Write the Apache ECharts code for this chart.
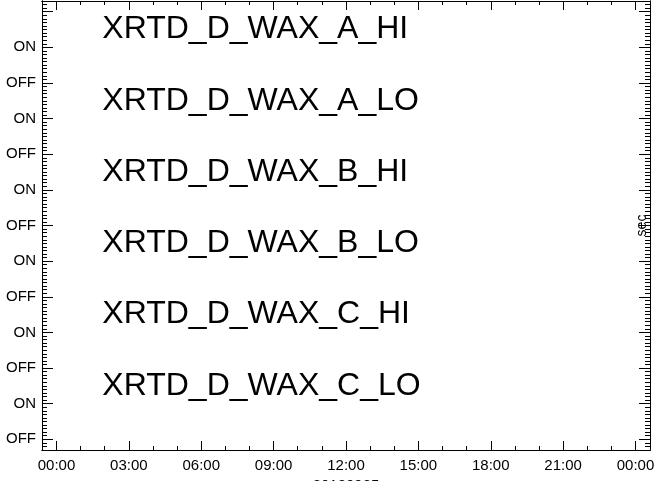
<!DOCTYPE html>
<html>
<head>
<meta charset="utf-8">
<script src="https://cdn.jsdelivr.net/npm/echarts@6/dist/echarts.min.js"></script>
<style>
  html, body { margin: 0; padding: 0; background: #fff; }
  #main { width: 657px; height: 481px; }
</style>
</head>
<body>
<div id="main"></div>
<script>
// channel names, top to bottom
var channels = ['XRTD_D_WAX_A_HI', 'XRTD_D_WAX_A_LO', 'XRTD_D_WAX_B_HI',
                'XRTD_D_WAX_B_LO', 'XRTD_D_WAX_C_HI', 'XRTD_D_WAX_C_LO'];
// where each name sits (y in state units, x in hours)
var nameY = [11.5, 9.5, 7.5, 5.5, 3.5, 1.5];
var nameX = [1.9, 1.9, 1.9, 1.9, 1.9, 1.9];
// tick labels
var stateLabels = ['OFF', 'ON'];
var timeLabels = ['00:00', '03:00', '06:00', '09:00', '12:00', '15:00', '18:00', '21:00', '00:00'];
var dateLabel = '20180925';
var yUnit = 'sec';

var chart = echarts.init(document.getElementById('main'));

var black = '#000';
var font = 'Liberation Sans';

// slots for the small ticks (0.2 h along x, 0.1 state along y)
var xSlots = [];
for (var k = 0; k <= 126; k++) xSlots.push((-0.6 + k * 0.2).toFixed(1));
var ySlots = [];
for (var k = 0; k <= 126; k++) ySlots.push((-0.3 + k * 0.1).toFixed(1));

function isInt(v) {
    return Math.abs(v - Math.round(v)) < 1e-6;
}

function xAx(pos, withLabels) {
    return {
        type: 'value',
        position: pos,
        min: -0.6,
        max: 24.6,
        splitNumber: 8,
        axisLine: { show: true, onZero: false, lineStyle: { color: black, width: 1 } },
        axisTick: { show: true, inside: true, length: 9, lineStyle: { color: black, width: 1 } },
        axisLabel: {
            show: withLabels,
            margin: 8,
            color: black,
            fontSize: 15,
            fontFamily: font,
            formatter: function (v) {
                if (!isInt(v)) return '';
                var h = Math.round(v);
                if (h % 3 !== 0 || h < 0 || h > 24) return '';
                return timeLabels[h / 3];
            }
        },
        splitLine: { show: false }
    };
}

function xMinor(pos) {
    return {
        type: 'category',
        position: pos,
        data: xSlots,
        boundaryGap: false,
        axisLine: { show: true, onZero: false, lineStyle: { color: black, width: 1 } },
        axisTick: {
            show: true, inside: true, length: 4,
            interval: function (idx) { return (idx - 3) % 5 === 0; },
            lineStyle: { color: black, width: 1 }
        },
        axisLabel: { show: false },
        splitLine: { show: false }
    };
}

function yAx(pos, withLabels) {
    return {
        type: 'value',
        position: pos,
        min: -0.3,
        max: 12.3,
        splitNumber: 12,
        axisLine: { show: true, onZero: false, lineStyle: { color: black, width: 1 } },
        axisTick: { show: true, inside: true, length: 11, lineStyle: { color: black, width: 1 } },
        axisLabel: {
            show: withLabels,
            margin: 6,
            color: black,
            fontSize: 15,
            fontFamily: font,
            formatter: function (v) {
                if (!isInt(v)) return '';
                var n = Math.round(v);
                if (n < 0 || n > 11) return '';
                return stateLabels[n % 2];
            }
        },
        splitLine: { show: false }
    };
}

function yMinor(pos) {
    return {
        type: 'category',
        position: pos,
        data: ySlots,
        boundaryGap: false,
        axisLine: { show: true, onZero: false, lineStyle: { color: black, width: 1 } },
        axisTick: { show: true, inside: true, length: 5, interval: 0, lineStyle: { color: black, width: 1 } },
        axisLabel: { show: false },
        splitLine: { show: false }
    };
}

var xBottom = xAx('bottom', true);
xBottom.name = dateLabel;
xBottom.nameLocation = 'middle';
xBottom.nameGap = 24;
xBottom.nameTextStyle = { color: black, fontSize: 15, fontFamily: font };

var yRight = yAx('right', false);
yRight.name = yUnit;
yRight.nameLocation = 'middle';
yRight.nameGap = -15;
yRight.nameTextStyle = { color: black, fontSize: 14, fontFamily: font };

var pts = [];
for (var i = 0; i < channels.length; i++) {
    pts.push({ value: [nameX[i], nameY[i]], name: channels[i] });
}

var option = {
    animation: false,
    backgroundColor: '#fff',
    textStyle: { fontFamily: font },
    grid: { left: 42, right: 7, top: 1, bottom: 31, containLabel: false, outerBoundsMode: 'none' },
    xAxis: [
        xBottom,
        xMinor('bottom'),
        xAx('top', false),
        xMinor('top')
    ],
    yAxis: [
        yAx('left', true),
        yMinor('left'),
        yRight,
        yMinor('right')
    ],
    series: [
        {
            type: 'scatter',
            xAxisIndex: 0,
            yAxisIndex: 0,
            symbolSize: 0,
            itemStyle: { opacity: 1 },
            data: pts,
            label: {
                show: true,
                position: 'right',
                distance: 0,
                color: black,
                opacity: 1,
                fontSize: 32,
                fontFamily: font,
                formatter: function (p) { return p.name; }
            }
        }
    ]
};

chart.setOption(option);
</script>
</body>
</html>
